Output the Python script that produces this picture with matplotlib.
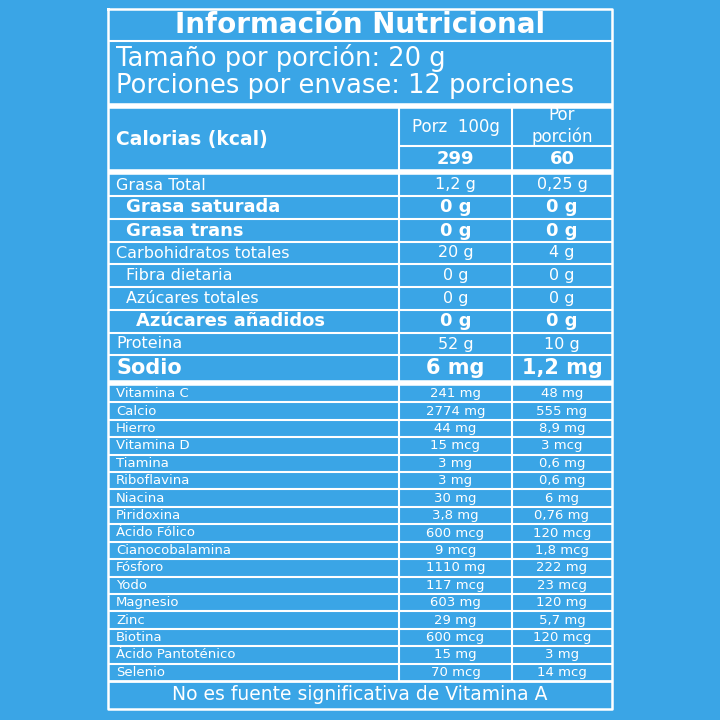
import matplotlib
matplotlib.use("Agg")
import matplotlib.pyplot as plt

title = "Información Nutricional"
serving = ["Tamaño por porción: 20 g", "Porciones por envase: 12 porciones"]
cal_label = "Calorias (kcal)"
col_heads = ["Porz  100g", "Por\nporción"]
cal_vals = ["299", "60"]
macro_names = ["Grasa Total", "Grasa saturada", "Grasa trans", "Carbohidratos totales",
               "Fibra dietaria", "Azúcares totales", "Azúcares añadidos", "Proteina", "Sodio"]
macro_100 = ["1,2 g", "0 g", "0 g", "20 g", "0 g", "0 g", "0 g", "52 g", "6 mg"]
macro_por = ["0,25 g", "0 g", "0 g", "4 g", "0 g", "0 g", "0 g", "10 g", "1,2 mg"]
macro_bold = [False, True, True, False, False, False, True, False, True]
macro_indent = [0, 1, 1, 0, 1, 1, 2, 0, 0]
vit_names = ["Vitamina C", "Calcio", "Hierro", "Vitamina D", "Tiamina", "Riboflavina", "Niacina",
             "Piridoxina", "Ácido Fólico", "Cianocobalamina", "Fósforo", "Yodo", "Magnesio",
             "Zinc", "Biotina", "Ácido Pantoténico", "Selenio"]
vit_100 = ["241 mg", "2774 mg", "44 mg", "15 mcg", "3 mg", "3 mg", "30 mg", "3,8 mg", "600 mcg",
           "9 mcg", "1110 mg", "117 mcg", "603 mg", "29 mg", "600 mcg", "15 mg", "70 mcg"]
vit_por = ["48 mg", "555 mg", "8,9 mg", "3 mcg", "0,6 mg", "0,6 mg", "6 mg", "0,76 mg", "120 mcg",
           "1,8 mcg", "222 mg", "23 mcg", "120 mg", "5,7 mg", "120 mcg", "3 mg", "14 mcg"]
footer = "No es fuente significativa de Vitamina A"

BG = "#3aa5e6"
W = "white"
FONT = "DejaVu Sans"
fig = plt.figure(figsize=(7.2, 7.2), dpi=100, facecolor=BG)
ax = fig.add_axes([0, 0, 1, 1])
ax.set_xlim(0, 720); ax.set_ylim(720, 0); ax.axis("off")
ax.set_facecolor(BG)

L, R, C1, C2 = 108, 612, 399, 512
def hl(y, lw=1.5, x0=L, x1=R):
    ax.plot([x0, x1], [y, y], color=W, lw=lw, solid_capstyle="butt")
def vl(x, y0, y1, lw=1.5):
    ax.plot([x, x], [y0, y1], color=W, lw=lw, solid_capstyle="butt")
def txt(x, y, s, size, bold=False, ha="left"):
    ax.text(x, y, s, color=W, fontsize=size, fontweight="bold" if bold else "normal",
            ha=ha, va="center", family=FONT)

ax.plot([L, R, R, L, L], [9, 9, 709, 709, 9], color=W, lw=1.8)
txt(360, 25, title, 20, bold=True, ha="center")
hl(41)
txt(116, 58, serving[0], 18.5)
txt(116, 86, serving[1], 18.5)
hl(106, lw=4)
txt(116, 140, cal_label, 13.5, bold=True)
vl(C1, 106, 171); vl(C2, 106, 171)
hl(146, x0=C1)
txt((C1 + C2) / 2, 127, col_heads[0], 12, ha="center")
txt((C2 + R) / 2, 126, col_heads[1], 12, ha="center")
txt((C1 + C2) / 2, 159, cal_vals[0], 13, bold=True, ha="center")
txt((C2 + R) / 2, 159, cal_vals[1], 13, bold=True, ha="center")
hl(172, lw=4)

bounds = [174, 196, 219, 242, 264, 287, 310, 333, 355, 381]
for i, name in enumerate(macro_names):
    y0, y1 = bounds[i], bounds[i + 1]
    yc = (y0 + y1) / 2
    b = macro_bold[i]
    size = 15 if name == "Sodio" else (13 if b else 11.5)
    txt(116 + macro_indent[i] * 10, yc, name, size, bold=b)
    txt((C1 + C2) / 2, yc, macro_100[i], size, bold=b, ha="center")
    txt((C2 + R) / 2, yc, macro_por[i], size, bold=b, ha="center")
    if i < len(macro_names) - 1:
        hl(y1)
vl(C1, 172, 383); vl(C2, 172, 383)
hl(383, lw=4)

top, bot = 385, 681
h = (bot - top) / len(vit_names)
for i, name in enumerate(vit_names):
    y0 = top + i * h
    yc = y0 + h / 2
    txt(116, yc, name, 9.5)
    txt((C1 + C2) / 2, yc, vit_100[i], 9.5, ha="center")
    txt((C2 + R) / 2, yc, vit_por[i], 9.5, ha="center")
    if i > 0:
        hl(y0)
vl(C1, top, bot); vl(C2, top, bot)
hl(bot, lw=2)
txt(360, 694, footer, 13.5, ha="center")

fig.savefig("out.png", dpi=100, facecolor=BG)
